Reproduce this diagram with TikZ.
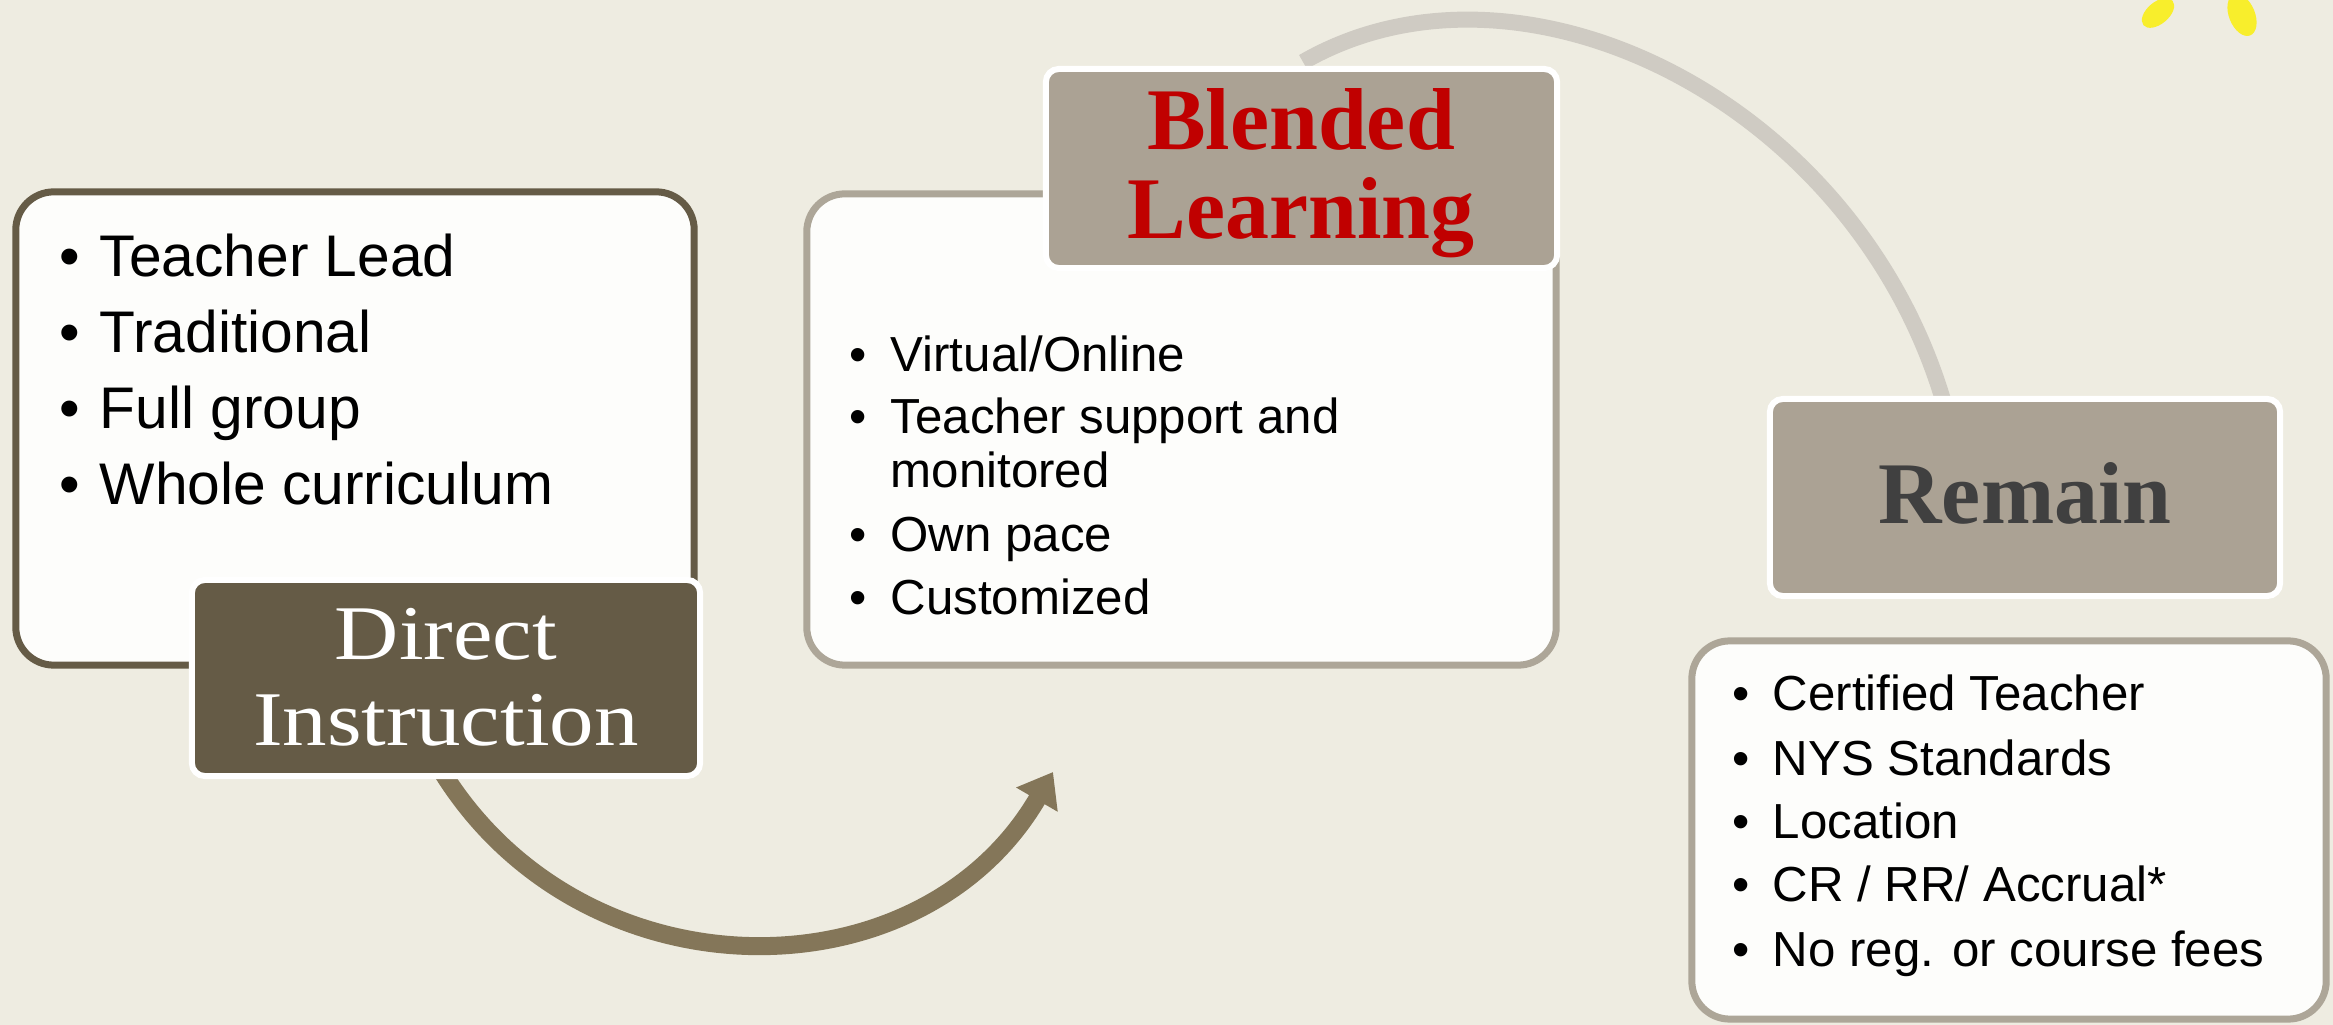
\documentclass[tikz,border=0pt]{standalone}
\usepackage{fontspec}
\setmainfont{Liberation Sans}
\newfontfamily\hdserif{Liberation Serif}
\newfontfamily\diserif[FakeStretch=1.15]{Liberation Serif}
\usetikzlibrary{arrows.meta}
\definecolor{bg}{HTML}{EEECE1}
\definecolor{darkbrown}{HTML}{655B46}
\definecolor{taupe}{HTML}{ABA294}
\definecolor{taupeline}{HTML}{ADA698}
\definecolor{arrowbrown}{HTML}{847659}
\definecolor{arcgray}{HTML}{CFCBC3}
\definecolor{boxwhite}{HTML}{FDFDFB}
\definecolor{redtext}{HTML}{C00000}
\definecolor{graytext}{HTML}{404040}
\definecolor{blobyellow}{HTML}{F8EE2C}
\newcommand\bitem[2]{\llap{\textbullet\hspace{#1}}#2}
\begin{document}
\begin{tikzpicture}[x=0.01cm,y=-0.01cm,
  contentbox/.style={draw, fill=boxwhite, line width=0.07cm, rounded corners=0.38cm, inner sep=0},
  headerbox/.style={draw=white, line width=0.06cm, rounded corners=0.13cm, inner sep=0},
  itemA/.style={anchor=base west, inner sep=0, font=\fontsize{16.7pt}{20pt}\selectfont},
  itemB/.style={anchor=base west, inner sep=0, font=\fontsize{14pt}{17pt}\selectfont},
  hdtext/.style={anchor=base, inner sep=0, font=\hdserif\bfseries\fontsize{25pt}{30pt}\selectfont},
  ditext/.style={anchor=base, inner sep=0, text=white, font=\diserif\fontsize{22pt}{26pt}\selectfont},
  bigarrow/.style={arrowbrown, line width=0.18cm, -{Triangle[length=0.32cm,width=0.46cm]}},
  grayarc/.style={arcgray, line width=0.16cm}
]
\useasboundingbox (0,0) rectangle (2333,1025);
\fill[bg] (0,0) rectangle (2333,1025);

% connectors (behind boxes)
\coordinate (a1s) at (441,770);
\coordinate (a1e) at (1053,772);
\draw[bigarrow] (a1s) .. controls (582,1000) and (920,1000) .. (a1e);
\coordinate (a2s) at (1303,62);
\coordinate (a2e) at (1943,400);
\draw[grayarc] (a2s) .. controls (1520,-63) and (1853,100) .. (a2e);

% content boxes
\node[contentbox, draw=darkbrown, minimum width=6.78cm, minimum height=4.73cm] (box1) at (355,428.5) {};
\node[contentbox, draw=taupeline, minimum width=7.49cm, minimum height=4.71cm] (box2) at (1181.5,429.5) {};
\node[contentbox, draw=taupeline, minimum width=6.34cm, minimum height=3.78cm] (box3) at (2009,830) {};

% header boxes
\node[headerbox, fill=darkbrown, minimum width=5.08cm, minimum height=1.96cm] (hdir) at (446,678) {};
\node[headerbox, fill=taupe, minimum width=5.11cm, minimum height=1.99cm] (hblend) at (1301.5,168.5) {};
\node[headerbox, fill=taupe, minimum width=5.10cm, minimum height=1.97cm] (hrem) at (2025,497.5) {};

% header texts
\node[ditext] (tdir1) at (446,660) {Direct};
\node[ditext] (tdir2) at (446,745) {Instruction};
\node[hdtext, text=redtext] (tbl1) at (1301,150) {Blended};
\node[hdtext, text=redtext] (tbl2) at (1301,239) {Learning};
\node[hdtext, text=graytext] (trem) at (2025,524) {Remain};

% box 1 items
\node[itemA] (i11) at (99,277) {\bitem{0.2cm}{Teacher Lead}};
\node[itemA] (i12) at (99,353) {\bitem{0.2cm}{Traditional}};
\node[itemA] (i13) at (99,429) {\bitem{0.2cm}{Full group}};
\node[itemA] (i14) at (99,505) {\bitem{0.2cm}{Whole curriculum}};

% box 2 items
\node[itemB] (i21) at (890,372) {\bitem{0.24cm}{Virtual/Online}};
\node[itemB] (i22) at (890,434) {\bitem{0.24cm}{Teacher support and}};
\node[itemB] (i22b) at (890,488) {monitored};
\node[itemB] (i23) at (890,552) {\bitem{0.24cm}{Own pace}};
\node[itemB] (i24) at (890,615) {\bitem{0.24cm}{Customized}};

% box 3 items
\node[itemB] (i31) at (1772,711) {\bitem{0.23cm}{Certified Teacher}};
\node[itemB] (i32) at (1772,775) {\bitem{0.23cm}{NYS Standards}};
\node[itemB] (i33) at (1772,838) {\bitem{0.23cm}{Location}};
\node[itemB] (i34) at (1772,902) {\bitem{0.23cm}{CR / RR/ Accrual*}};
\node[itemB] (i35) at (1772,966) {\bitem{0.23cm}{No reg. or course fees}};

% yellow blobs at top right
\fill[blobyellow, rotate around={40:(2158,13)}] (2158,13) ellipse [x radius=19, y radius=11];
\fill[blobyellow, rotate around={-68:(2242,15)}] (2242,15) ellipse [x radius=22, y radius=13];
\end{tikzpicture}
\end{document}
